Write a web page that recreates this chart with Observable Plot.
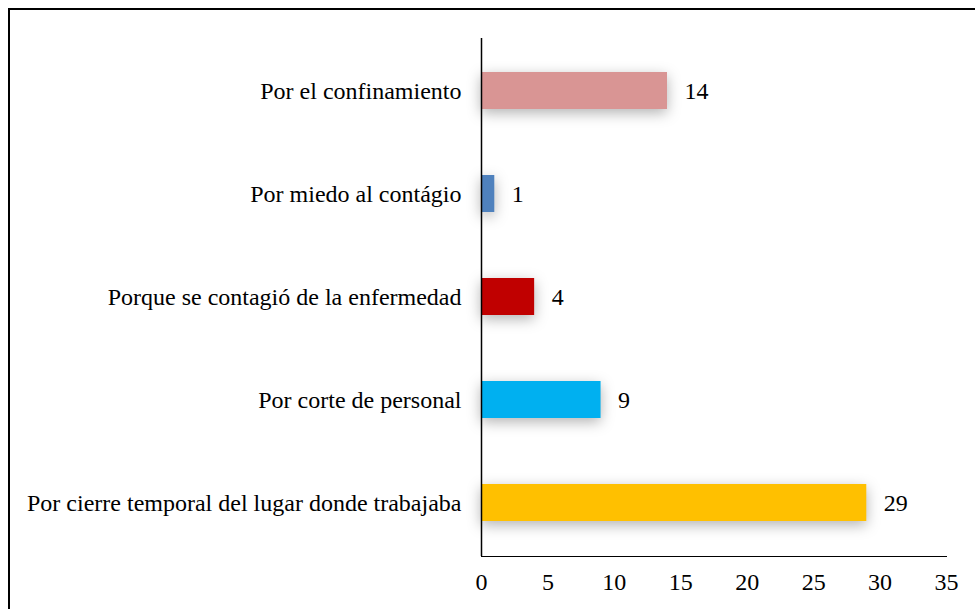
<!DOCTYPE html>
<html>
<head>
<meta charset="utf-8">
<script src="https://cdn.jsdelivr.net/npm/d3@7"></script>
<script src="https://cdn.jsdelivr.net/npm/@observablehq/plot@0.6"></script>
<style>
  html, body { margin: 0; padding: 0; background: #fff; overflow: hidden; }
  #frame { position: absolute; left: 8px; top: 8px; width: 1000px; height: 700px; border: 2px solid #000; box-sizing: border-box; }
  #chart { position: absolute; left: 0; top: 0; }
  #chart svg, #chart svg text { font-family: "Liberation Serif", "Times New Roman", serif !important; }
</style>
</head>
<body>
<div id="frame"></div>
<div id="chart"></div>
<script>
const categories = [
  "Por el confinamiento",
  "Por miedo al contágio",
  "Porque se contagió de la enfermedad",
  "Por corte de personal",
  "Por cierre temporal del lugar donde trabajaba"
];
const values = [14, 1, 4, 9, 29];
const colors = ["#D99594", "#4F81BD", "#C00000", "#00B0F0", "#FFC000"];
const xTicks = [0, 5, 10, 15, 20, 25, 30, 35];

const data = categories.map((c, i) => ({category: c, value: values[i], color: colors[i]}));

const chart = Plot.plot({
  width: 975,
  height: 609,
  marginLeft: 481,
  marginRight: 29,
  marginTop: 38,
  marginBottom: 53,
  style: {fontFamily: "Liberation Serif, serif", fontSize: "24px", color: "#000", background: "transparent"},
  x: {domain: [0, 35], ticks: xTicks, tickSize: 0, tickPadding: 16, label: null, line: true},
  y: {domain: categories, paddingInner: 0.64, paddingOuter: 0.32, tickSize: 0, tickPadding: 20, label: null},
  marks: [
    Plot.barX(data, {
      x: "value", y: "category", fill: "color",
      imageFilter: "drop-shadow(0px 4px 7px rgba(0,0,0,0.3))"
    }),
    Plot.text(data, {x: "value", y: "category", text: d => String(d.value), textAnchor: "start", dx: 17, fill: "#000", fontSize: 24}),
    Plot.ruleX([0], {stroke: "#000", strokeWidth: 1.5})
  ]
});
document.getElementById("chart").appendChild(chart);
</script>
</body>
</html>
